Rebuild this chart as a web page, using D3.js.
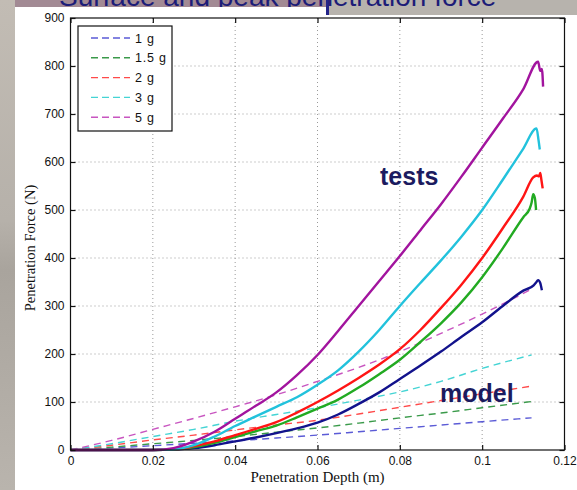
<!DOCTYPE html>
<html>
<head>
<meta charset="utf-8">
<script src="https://cdn.jsdelivr.net/npm/d3@7"></script>
<style>
  html, body { margin: 0; padding: 0; background: #fff; }
  svg { display: block; }
</style>
</head>
<body>
<div id="chart"></div>
<script>
/* Penetration force vs depth: model (dashed) and tests (solid) */

var seriesLabels = ['1 g', '1.5 g', '2 g', '3 g', '5 g'];
var dashColors = ['#5b5bd6', '#3a9a4a', '#ff4a4a', '#44d4d4', '#c855c0'];
var solidColors = ['#12128c', '#22aa22', '#ff1515', '#22c2dc', '#a2149e'];

var xTicks = [0, 0.02, 0.04, 0.06, 0.08, 0.1, 0.12];
var xTickLabels = ['0', '0.02', '0.04', '0.06', '0.08', '0.1', '0.12'];
var yTicks = [0, 100, 200, 300, 400, 500, 600, 700, 800, 900];

/* model curves */
var modelDepth = [0, 0.01, 0.02, 0.03, 0.04, 0.05, 0.06, 0.07, 0.08, 0.09, 0.1, 0.112];
var model1g = [0, 4, 9, 14, 19, 25, 31, 38, 45, 52, 59, 67];
var model15g = [0, 6, 13, 20, 28, 37, 46, 56, 67, 77, 88, 101];
var model2g = [0, 10, 21, 31, 42, 52, 62, 75, 89, 103, 117, 133];
var model3g = [0, 13, 28, 43, 60, 74, 88, 104, 121, 143, 170, 198];
var model5g = [0, 20, 43, 66, 90, 115, 143, 172, 205, 243, 283, 335];

/* test curves */
var testDepth = [0, 0.01, 0.02, 0.025, 0.03, 0.035, 0.04, 0.045, 0.05, 0.055, 0.06,
  0.065, 0.07, 0.075, 0.08, 0.085, 0.09, 0.095, 0.1, 0.105, 0.11];
var test1g = [0, 0, 0, 1, 4, 10, 18, 26, 35, 45, 57, 74, 96, 120, 148, 176, 205, 236, 266, 300, 332];
var test15g = [0, 0, 0, 1, 6, 15, 27, 39, 51, 68, 86, 105, 130, 158, 188, 225, 264, 308, 360, 420, 485];
var test2g = [0, 0, 0, 1, 8, 18, 31, 44, 58, 78, 100, 124, 150, 178, 210, 250, 296, 345, 400, 462, 528];
var test3g = [0, 0, 0, 1, 10, 28, 50, 70, 90, 110, 136, 166, 205, 250, 300, 348, 395, 445, 500, 563, 628];
var test5g = [0, 0, 0, 4, 18, 38, 65, 92, 120, 156, 198, 248, 300, 352, 404, 458, 512, 570, 630, 690, 752];

/* ragged end of each test trace */
var tip1gDepth = [0.1125, 0.113, 0.1136, 0.1141, 0.1145];
var tip1gForce = [343, 348, 354, 348, 333];
var tip15gDepth = [0.1115, 0.112, 0.1124, 0.1128, 0.1131];
var tip15gForce = [502, 515, 533, 525, 500];
var tip2gDepth = [0.1124, 0.1133, 0.1138, 0.1141, 0.1144, 0.1147];
var tip2gForce = [568, 572, 570, 577, 562, 545];
var tip3gDepth = [0.1132, 0.1137, 0.114];
var tip3gForce = [670, 645, 626];
var tip5gDepth = [0.1136, 0.1141, 0.1145, 0.1148];
var tip5gForce = [809, 790, 794, 757];

var models = [model1g, model15g, model2g, model3g, model5g];
var tests = [
  { force: test1g, tipD: tip1gDepth, tipF: tip1gForce },
  { force: test15g, tipD: tip15gDepth, tipF: tip15gForce },
  { force: test2g, tipD: tip2gDepth, tipF: tip2gForce },
  { force: test3g, tipD: tip3gDepth, tipF: tip3gForce },
  { force: test5g, tipD: tip5gDepth, tipF: tip5gForce }
];

var W = 577, H = 490;
var plot = { left: 70.5, right: 564.5, top: 18, bottom: 450 };

var svg = d3.select('#chart').append('svg')
  .attr('width', W)
  .attr('height', H);

/* slide background around the figure */
svg.append('rect').attr('x', 0).attr('y', 0).attr('width', W).attr('height', H).attr('fill', '#ffffff');
var defs = svg.append('defs');
var grad = defs.append('linearGradient')
  .attr('id', 'sideGrad').attr('x1', 0).attr('y1', 0).attr('x2', 0).attr('y2', 1);
grad.append('stop').attr('offset', '0%').attr('stop-color', '#c2bcb4');
grad.append('stop').attr('offset', '45%').attr('stop-color', '#b6b1aa');
grad.append('stop').attr('offset', '55%').attr('stop-color', '#a9a49d');
grad.append('stop').attr('offset', '100%').attr('stop-color', '#b9b4ad');
svg.append('rect').attr('x', 0).attr('y', 0).attr('width', 15).attr('height', H).attr('fill', 'url(#sideGrad)');
svg.append('rect').attr('x', 15).attr('y', 0).attr('width', 313).attr('height', 7).attr('fill', '#a28a94');
svg.append('rect').attr('x', 328).attr('y', 0).attr('width', W - 328).attr('height', 15).attr('fill', '#b7b3ad');
svg.append('rect').attr('x', 326).attr('y', 0).attr('width', 3).attr('height', 15).attr('fill', '#24248a');

/* slide title, only its lower edge shows above the figure */
var titleClip = defs.append('clipPath').attr('id', 'titleClip');
titleClip.append('rect').attr('x', 15).attr('y', 0).attr('width', 313).attr('height', 7);
titleClip.append('rect').attr('x', 328).attr('y', 0).attr('width', W - 328).attr('height', 15);
svg.append('text')
  .attr('clip-path', 'url(#titleClip)')
  .attr('x', 59)
  .attr('y', 6)
  .attr('font-family', 'Arial, Liberation Sans, sans-serif')
  .attr('font-size', 28)
  .attr('fill', '#1c1c78')
  .text('Surface and peak penetration force');

/* scales */
var x = d3.scaleLinear().domain([0, 0.12]).range([plot.left, plot.right]);
var y = d3.scaleLinear().domain([0, 900]).range([plot.bottom, plot.top]);
var innerW = plot.right - plot.left;
var innerH = plot.bottom - plot.top;

/* grid */
var grid = svg.append('g').attr('class', 'grid');
grid.selectAll('.gx')
  .data(xTicks.slice(1, -1))
  .join('line')
  .attr('x1', function (d) { return x(d); })
  .attr('x2', function (d) { return x(d); })
  .attr('y1', plot.top).attr('y2', plot.bottom)
  .attr('stroke', '#9a9a9a').attr('stroke-width', 1)
  .attr('stroke-dasharray', '1,3');
grid.selectAll('.gy')
  .data(yTicks.slice(1, -1))
  .join('line')
  .attr('y1', function (d) { return y(d); })
  .attr('y2', function (d) { return y(d); })
  .attr('x1', plot.left).attr('x2', plot.right)
  .attr('stroke', '#9a9a9a').attr('stroke-width', 1)
  .attr('stroke-dasharray', '1,3');

/* model lines (dashed) */
var modelLine = d3.line()
  .x(function (d, i) { return x(modelDepth[i]); })
  .y(function (d) { return y(d); })
  .curve(d3.curveMonotoneX);

svg.append('g').selectAll('path')
  .data(models)
  .join('path')
  .attr('d', modelLine)
  .attr('fill', 'none')
  .attr('stroke', function (d, i) { return dashColors[i]; })
  .attr('stroke-width', 1.4)
  .attr('stroke-dasharray', '7,5');

/* test lines (solid) */
function testPoints(t) {
  var pts = testDepth.map(function (dd, i) { return [dd, t.force[i]]; });
  t.tipD.forEach(function (dd, i) { pts.push([dd, t.tipF[i]]); });
  return pts;
}
var testLine = d3.line()
  .x(function (p) { return x(p[0]); })
  .y(function (p) { return y(p[1]); })
  .curve(d3.curveMonotoneX);

svg.append('g').selectAll('path')
  .data(tests)
  .join('path')
  .attr('d', function (t) { return testLine(testPoints(t)); })
  .attr('fill', 'none')
  .attr('stroke', function (d, i) { return solidColors[i]; })
  .attr('stroke-width', 2.4)
  .attr('stroke-linejoin', 'round');

/* axes box with inward ticks */
var tickFont = 'Arial, Liberation Sans, sans-serif';
svg.append('rect')
  .attr('x', plot.left).attr('y', plot.top)
  .attr('width', innerW).attr('height', innerH)
  .attr('fill', 'none').attr('stroke', '#111').attr('stroke-width', 1.2);

var axB = svg.append('g')
  .attr('transform', 'translate(0,' + plot.bottom + ')')
  .call(d3.axisBottom(x).tickValues(xTicks).tickSize(-5).tickPadding(6)
    .tickFormat(function (d, i) { return xTickLabels[i]; }));
var axT = svg.append('g')
  .attr('transform', 'translate(0,' + plot.top + ')')
  .call(d3.axisTop(x).tickValues(xTicks).tickSize(-5).tickFormat(''));
var axL = svg.append('g')
  .attr('transform', 'translate(' + plot.left + ',0)')
  .call(d3.axisLeft(y).tickValues(yTicks).tickSize(-5).tickPadding(6));
var axR = svg.append('g')
  .attr('transform', 'translate(' + plot.right + ',0)')
  .call(d3.axisRight(y).tickValues(yTicks).tickSize(-5).tickFormat(''));

[axB, axT, axL, axR].forEach(function (a) {
  a.select('.domain').remove();
  a.selectAll('.tick line').attr('stroke', '#111').attr('stroke-width', 1.2);
  a.selectAll('text')
    .attr('fill', '#111')
    .attr('font-family', tickFont)
    .attr('font-size', 12);
});

/* axis titles */
svg.append('text')
  .attr('x', (plot.left + plot.right) / 2)
  .attr('y', 482)
  .attr('text-anchor', 'middle')
  .attr('font-family', 'Liberation Serif, Times New Roman, serif')
  .attr('font-size', 15)
  .attr('fill', '#111')
  .text('Penetration Depth (m)');

svg.append('text')
  .attr('transform', 'translate(35,' + 248 + ') rotate(-90)')
  .attr('text-anchor', 'middle')
  .attr('font-family', 'Liberation Serif, Times New Roman, serif')
  .attr('font-size', 14.5)
  .attr('fill', '#111')
  .text('Penetration Force (N)');

/* legend */
var lg = svg.append('g').attr('transform', 'translate(78,26)');
lg.append('rect')
  .attr('width', 94).attr('height', 105)
  .attr('fill', '#fff').attr('stroke', '#111').attr('stroke-width', 1.2);
var items = lg.selectAll('.item')
  .data(seriesLabels)
  .join('g')
  .attr('transform', function (d, i) { return 'translate(0,' + (12 + i * 19.8) + ')'; });
items.append('line')
  .attr('x1', 13).attr('x2', 52)
  .attr('stroke', function (d, i) { return dashColors[i]; })
  .attr('stroke-width', 1.4)
  .attr('stroke-dasharray', '7,4');
items.append('text')
  .attr('x', 57).attr('y', 4.5)
  .attr('font-family', tickFont)
  .attr('font-size', 12.5)
  .attr('letter-spacing', 0.8)
  .attr('fill', '#111')
  .text(function (d) { return d; });

/* annotations */
svg.append('text')
  .attr('x', 380).attr('y', 185)
  .attr('font-family', 'Arial, Liberation Sans, sans-serif')
  .attr('font-weight', 'bold')
  .attr('font-size', 25)
  .attr('fill', '#1b1b60')
  .text('tests');

svg.append('text')
  .attr('x', 440).attr('y', 402)
  .attr('font-family', 'Arial, Liberation Sans, sans-serif')
  .attr('font-weight', 'bold')
  .attr('font-size', 25)
  .attr('fill', '#1b1b60')
  .text('model');
</script>
</body>
</html>
